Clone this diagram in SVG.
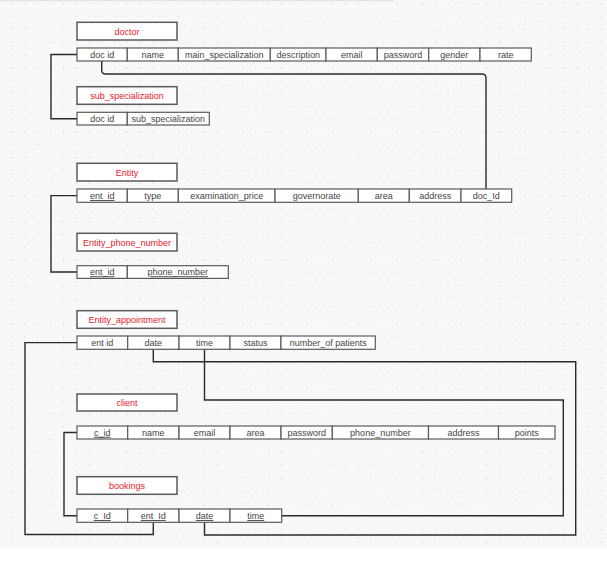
<svg xmlns="http://www.w3.org/2000/svg" width="607" height="564" viewBox="0 0 607 564">
<style>
.tb{fill:#fff;stroke:#5a5a5a;stroke-width:1.5}
.tt{font-family:"Liberation Sans",Arial,sans-serif;font-size:9px;fill:#e8202a;text-anchor:middle}
.c{fill:#fff;stroke:#5a5a5a;stroke-width:1.2}
.ct{font-family:"Liberation Sans",Arial,sans-serif;font-size:9px;fill:#444;text-anchor:middle}
.u{text-decoration:underline}
.ln{fill:none;stroke:#2a2a2a;stroke-width:1.4}
</style>
<defs>
<pattern id="grid" x="5.6" y="-2.9" width="12.83" height="12.83" patternUnits="userSpaceOnUse">
<rect x="5.7" y="5.7" width="1.4" height="1.4" fill="#dcdce2"/>
</pattern>
</defs>
<rect x="0" y="0" width="607" height="564" fill="#ffffff"/>
<rect x="0" y="0" width="607" height="548" fill="#f8f8fa"/>
<rect x="0" y="0" width="607" height="548" fill="url(#grid)"/>
<rect x="0" y="0" width="394" height="1.2" fill="#e2e2e6"/>

<g id="connectors">
<path class="ln" d="M77,54.5 H51 V118.7 H77"/>
<path class="ln" d="M101.7,61 V70 Q101.7,74 105.7,74 H482 Q486,74 486,78 V189"/>
<path class="ln" d="M77,195.6 H51 V272 H77"/>
<path class="ln" d="M77,342.6 H25 V534.5 H153.3 V522.3"/>
<path class="ln" d="M153.3,349.3 V361.7 H575.7 V535 H204.5 V522.3"/>
<path class="ln" d="M204.5,349.3 V400 H563.3 V515.7 H281.7"/>
<path class="ln" d="M77,432.5 H64 V515.7 H77"/>
</g>

<g id="doctor">
<rect class="tb" x="77" y="22.3" width="100" height="17.7"/>
<text class="tt" x="127" y="34.5">doctor</text>
<rect class="c" x="77" y="48" width="50.3" height="13"/><text class="ct" x="102.2" y="57.8">doc id</text>
<rect class="c" x="127.3" y="48" width="51" height="13"/><text class="ct" x="152.8" y="57.8">name</text>
<rect class="c" x="178.3" y="48" width="92" height="13"/><text class="ct" x="224.3" y="57.8">main_specialization</text>
<rect class="c" x="270.3" y="48" width="55.7" height="13"/><text class="ct" x="298.2" y="57.8">description</text>
<rect class="c" x="326" y="48" width="51.3" height="13"/><text class="ct" x="351.7" y="57.8">email</text>
<rect class="c" x="377.3" y="48" width="51.4" height="13"/><text class="ct" x="403" y="57.8">password</text>
<rect class="c" x="428.7" y="48" width="51.3" height="13"/><text class="ct" x="454.3" y="57.8">gender</text>
<rect class="c" x="480" y="48" width="51.3" height="13"/><text class="ct" x="505.7" y="57.8">rate</text>
</g>

<g id="sub_specialization">
<rect class="tb" x="77" y="86.7" width="100" height="17.6"/>
<text class="tt" x="127" y="98.8">sub_specialization</text>
<rect class="c" x="77" y="112.3" width="50.3" height="12.7"/><text class="ct" x="102.2" y="121.9">doc id</text>
<rect class="c" x="127.3" y="112.3" width="82" height="12.7"/><text class="ct" x="168.3" y="121.9">sub_specialization</text>
</g>

<g id="Entity">
<rect class="tb" x="77" y="163.3" width="100" height="17.7"/>
<text class="tt" x="127" y="175.5">Entity</text>
<rect class="c" x="77" y="189" width="50.3" height="13.3"/><text class="ct u" x="102.2" y="199">ent_id</text>
<rect class="c" x="127.3" y="189" width="51" height="13.3"/><text class="ct" x="152.8" y="199">type</text>
<rect class="c" x="178.3" y="189" width="96.7" height="13.3"/><text class="ct" x="226.7" y="199">examination_price</text>
<rect class="c" x="275" y="189" width="83.3" height="13.3"/><text class="ct" x="316.7" y="199">governorate</text>
<rect class="c" x="358.3" y="189" width="51" height="13.3"/><text class="ct" x="383.8" y="199">area</text>
<rect class="c" x="409.3" y="189" width="51.7" height="13.3"/><text class="ct" x="435.2" y="199">address</text>
<rect class="c" x="461" y="189" width="50.7" height="13.3"/><text class="ct" x="486.3" y="199">doc_Id</text>
</g>

<g id="Entity_phone_number">
<rect class="tb" x="77" y="233.3" width="100" height="17.7"/>
<text class="tt" x="127" y="245.5">Entity_phone_number</text>
<rect class="c" x="77" y="265.7" width="50.3" height="12.7"/><text class="ct u" x="102.2" y="275.3">ent_id</text>
<rect class="c" x="127.3" y="265.7" width="101" height="12.7"/><text class="ct u" x="177.8" y="275.3">phone_number</text>
</g>

<g id="Entity_appointment">
<rect class="tb" x="77" y="310.7" width="100" height="17.6"/>
<text class="tt" x="127" y="322.8">Entity_appointment</text>
<rect class="c" x="77" y="336" width="50.7" height="13.3"/><text class="ct" x="102.3" y="346">ent id</text>
<rect class="c" x="127.7" y="336" width="51.3" height="13.3"/><text class="ct" x="153.3" y="346">date</text>
<rect class="c" x="179" y="336" width="51" height="13.3"/><text class="ct" x="204.5" y="346">time</text>
<rect class="c" x="230" y="336" width="51" height="13.3"/><text class="ct" x="255.5" y="346">status</text>
<rect class="c" x="281" y="336" width="94.3" height="13.3"/><text class="ct" x="328.2" y="346">number_of patients</text>
</g>

<g id="client">
<rect class="tb" x="77" y="394" width="100" height="17"/>
<text class="tt" x="127" y="405.8">client</text>
<rect class="c" x="77" y="426" width="50.7" height="13"/><text class="ct u" x="102.3" y="435.8">c_id</text>
<rect class="c" x="127.7" y="426" width="51.3" height="13"/><text class="ct" x="153.3" y="435.8">name</text>
<rect class="c" x="179" y="426" width="51" height="13"/><text class="ct" x="204.5" y="435.8">email</text>
<rect class="c" x="230" y="426" width="51" height="13"/><text class="ct" x="255.5" y="435.8">area</text>
<rect class="c" x="281" y="426" width="51.3" height="13"/><text class="ct" x="306.7" y="435.8">password</text>
<rect class="c" x="332.3" y="426" width="96.2" height="13"/><text class="ct" x="380.4" y="435.8">phone_number</text>
<rect class="c" x="428.5" y="426" width="70" height="13"/><text class="ct" x="463.5" y="435.8">address</text>
<rect class="c" x="498.5" y="426" width="56.5" height="13"/><text class="ct" x="526.8" y="435.8">points</text>
</g>

<g id="bookings">
<rect class="tb" x="77" y="476.7" width="100" height="17.6"/>
<text class="tt" x="127" y="488.8">bookings</text>
<rect class="c" x="77" y="509" width="50.7" height="13.3"/><text class="ct u" x="102.3" y="519">c_Id</text>
<rect class="c" x="127.7" y="509" width="51.3" height="13.3"/><text class="ct u" x="153.3" y="519">ent_Id</text>
<rect class="c" x="179" y="509" width="51" height="13.3"/><text class="ct u" x="204.5" y="519">date</text>
<rect class="c" x="230" y="509" width="51.7" height="13.3"/><text class="ct u" x="255.8" y="519">time</text>
</g>
</svg>
